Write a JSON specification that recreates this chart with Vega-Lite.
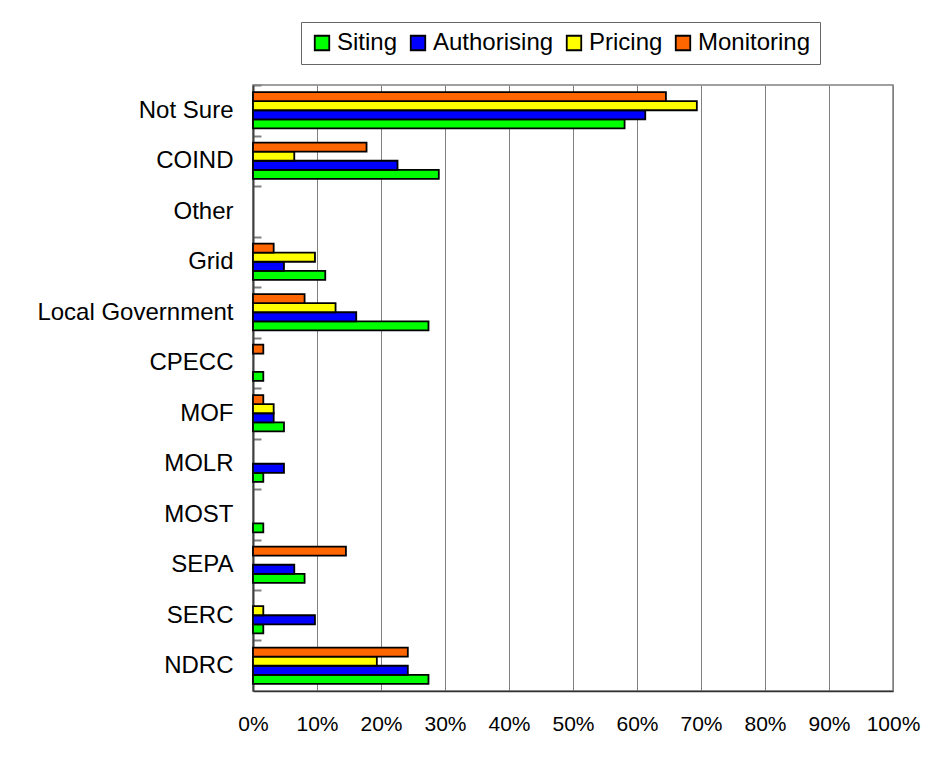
{
  "$schema": "https://vega.github.io/schema/vega-lite/v6.json",
  "width": 640,
  "height": 606,
  "autosize": {"type": "none"},
  "padding": {"left": 253, "top": 85, "right": 37, "bottom": 69},
  "background": "white",
  "config": {
    "font": "Liberation Sans",
    "view": {"stroke": "#808080", "strokeWidth": 1.5}
  },
  "data": {
    "values": [
      {"org": "Not Sure", "role": "Siting", "value": 58.06},
      {"org": "Not Sure", "role": "Authorising", "value": 61.29},
      {"org": "Not Sure", "role": "Pricing", "value": 69.35},
      {"org": "Not Sure", "role": "Monitoring", "value": 64.52},
      {"org": "COIND", "role": "Siting", "value": 29.03},
      {"org": "COIND", "role": "Authorising", "value": 22.58},
      {"org": "COIND", "role": "Pricing", "value": 6.45},
      {"org": "COIND", "role": "Monitoring", "value": 17.74},
      {"org": "Grid", "role": "Siting", "value": 11.29},
      {"org": "Grid", "role": "Authorising", "value": 4.84},
      {"org": "Grid", "role": "Pricing", "value": 9.68},
      {"org": "Grid", "role": "Monitoring", "value": 3.23},
      {"org": "Local Government", "role": "Siting", "value": 27.42},
      {"org": "Local Government", "role": "Authorising", "value": 16.13},
      {"org": "Local Government", "role": "Pricing", "value": 12.9},
      {"org": "Local Government", "role": "Monitoring", "value": 8.06},
      {"org": "CPECC", "role": "Siting", "value": 1.61},
      {"org": "CPECC", "role": "Monitoring", "value": 1.61},
      {"org": "MOF", "role": "Siting", "value": 4.84},
      {"org": "MOF", "role": "Authorising", "value": 3.23},
      {"org": "MOF", "role": "Pricing", "value": 3.23},
      {"org": "MOF", "role": "Monitoring", "value": 1.61},
      {"org": "MOLR", "role": "Siting", "value": 1.61},
      {"org": "MOLR", "role": "Authorising", "value": 4.84},
      {"org": "MOST", "role": "Siting", "value": 1.61},
      {"org": "SEPA", "role": "Siting", "value": 8.06},
      {"org": "SEPA", "role": "Authorising", "value": 6.45},
      {"org": "SEPA", "role": "Monitoring", "value": 14.52},
      {"org": "SERC", "role": "Siting", "value": 1.61},
      {"org": "SERC", "role": "Authorising", "value": 9.68},
      {"org": "SERC", "role": "Pricing", "value": 1.61},
      {"org": "NDRC", "role": "Siting", "value": 27.42},
      {"org": "NDRC", "role": "Authorising", "value": 24.19},
      {"org": "NDRC", "role": "Pricing", "value": 19.35},
      {"org": "NDRC", "role": "Monitoring", "value": 24.19}
    ]
  },
  "mark": {"type": "bar", "stroke": "black", "strokeWidth": 1.8},
  "encoding": {
    "y": {
      "field": "org",
      "type": "nominal",
      "scale": {
        "domain": ["Not Sure", "COIND", "Other", "Grid", "Local Government", "CPECC", "MOF", "MOLR", "MOST", "SEPA", "SERC", "NDRC"],
        "paddingInner": 0.28,
        "paddingOuter": 0.14
      },
      "axis": {
        "title": null,
        "labelFontSize": 24,
        "labelColor": "black",
        "labelPadding": 28,
        "labelLimit": 0,
        "domainColor": "#404040",
        "domainWidth": 2,
        "tickOffset": -25.25,
        "labelOffset": 25.25,
        "tickSize": -8,
        "tickColor": "#808080",
        "tickWidth": 2,
        "grid": false
      }
    },
    "x": {
      "field": "value",
      "type": "quantitative",
      "scale": {"domain": [0, 100], "nice": false},
      "axis": {
        "title": null,
        "values": [0, 10, 20, 30, 40, 50, 60, 70, 80, 90, 100],
        "labelExpr": "datum.value + '%'",
        "labelFontSize": 21,
        "labelColor": "black",
        "labelPadding": 22,
        "labelFlush": false,
        "labelOverlap": false,
        "grid": true,
        "gridColor": "#808080",
        "gridWidth": 1,
        "domainColor": "#333333",
        "domainWidth": 1.5,
        "ticks": false
      }
    },
    "yOffset": {
      "field": "role",
      "type": "nominal",
      "scale": {"domain": ["Monitoring", "Pricing", "Authorising", "Siting"], "paddingInner": 0, "paddingOuter": 0}
    },
    "color": {
      "field": "role",
      "type": "nominal",
      "scale": {
        "domain": ["Siting", "Authorising", "Pricing", "Monitoring"],
        "range": ["#00FF00", "#0000FF", "#FFFF00", "#FF6600"]
      },
      "legend": {
        "title": null,
        "orient": "none",
        "legendX": 48,
        "legendY": -63,
        "direction": "horizontal",
        "symbolType": "square",
        "symbolSize": 210,
        "symbolStrokeColor": "black",
        "symbolStrokeWidth": 1.8,
        "symbolOpacity": 1,
        "labelFontSize": 24,
        "labelColor": "black",
        "labelOffset": 3,
        "labelLimit": 0,
        "columnPadding": 8,
        "padding": 9,
        "strokeColor": "#666666",
        "fillColor": "white"
      }
    }
  }
}
